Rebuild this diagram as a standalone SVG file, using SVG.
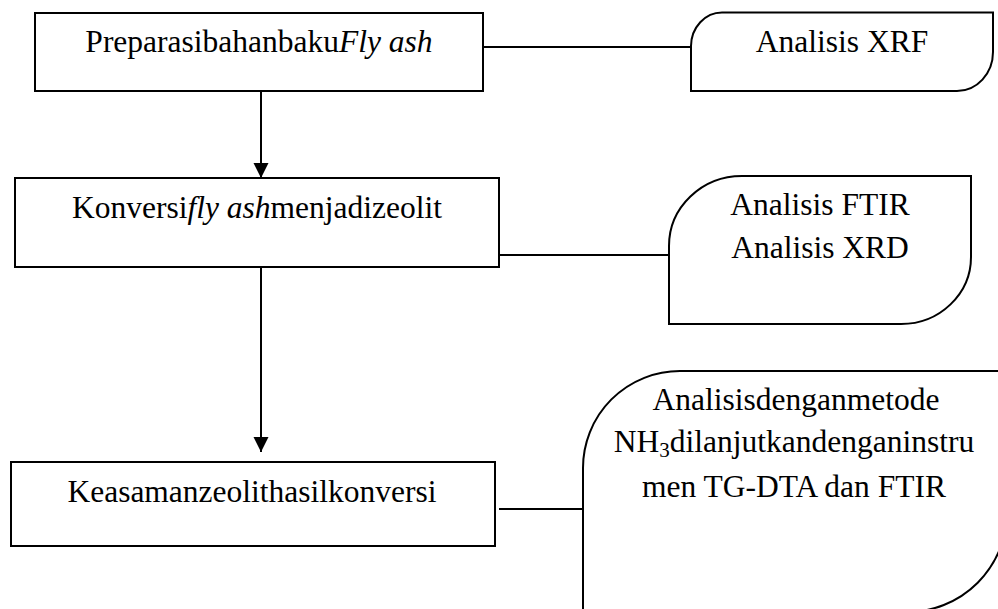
<svg xmlns="http://www.w3.org/2000/svg" width="998" height="609" viewBox="0 0 998 609">
<style>
.box{fill:#fff;stroke:#000;stroke-width:2}
.t{font-family:"Liberation Serif","Times New Roman",serif;font-size:31.5px;fill:#000;text-anchor:middle}
.i{font-style:italic}
.c{stroke:#000;stroke-width:2;fill:none}
</style>
<defs>
<marker id="ah" markerUnits="userSpaceOnUse" markerWidth="16" markerHeight="16" refX="15" refY="7.5" orient="auto">
<path d="M0,0 L15,7.5 L0,15 z" fill="#000"/>
</marker>
</defs>
<rect width="998" height="609" fill="#fff"/>
<g id="connectors">
<line class="c" x1="483" y1="47" x2="691" y2="47"/>
<line class="c" x1="497" y1="255" x2="669" y2="255"/>
<line class="c" x1="499" y1="509" x2="583" y2="509"/>
<line class="c" x1="261" y1="91" x2="261" y2="178" marker-end="url(#ah)"/>
<line class="c" x1="261" y1="257" x2="261" y2="452" marker-end="url(#ah)"/>
</g>
<g id="n1">
<rect class="box" x="35" y="13" width="448" height="78"/>
<text class="t" x="259" y="52">Preparasibahanbaku<tspan class="i">Fly ash</tspan></text>
</g>
<g id="n2">
<path class="box" d="M691,91 L691,46 A31,34 0 0 1 722,12.5 L993,12.5 L993,52 A36,39 0 0 1 957,91 Z"/>
<text class="t" x="842" y="52">Analisis XRF</text>
</g>
<g id="n3">
<rect class="box" x="15" y="178" width="484" height="89"/>
<text class="t" x="257" y="218">Konversi<tspan class="i">fly ash</tspan>menjadizeolit</text>
</g>
<g id="n4">
<path class="box" d="M669,324 L669,246 A73,70 0 0 1 742,176 L971,176 L971,257 A70,67 0 0 1 901,324 Z"/>
<text class="t" x="820" y="215">Analisis FTIR</text>
<text class="t" x="820" y="258">Analisis XRD</text>
</g>
<g id="n5">
<rect class="box" x="11" y="462" width="484" height="84"/>
<text class="t" x="252" y="502">Keasamanzeolithasilkonversi</text>
</g>
<g id="n6">
<path class="box" d="M583,612 L583,468 A97,97 0 0 1 680,371 L1007,371 L1007,512 A100,100 0 0 1 907,612 Z"/>
<text class="t" x="796" y="410">Analisisdenganmetode</text>
<text class="t" x="794" y="452">NH<tspan font-size="21" dy="5">3</tspan><tspan dy="-5">dilanjutkandenganinstru</tspan></text>
<text class="t" x="794" y="497">men TG-DTA dan FTIR</text>
</g>
</svg>
